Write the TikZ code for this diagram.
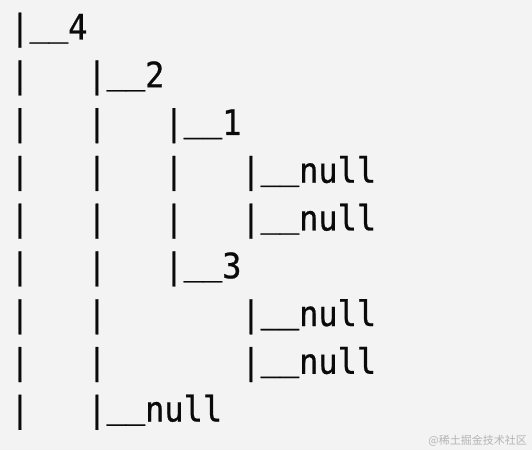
\documentclass[tikz,border=0pt]{standalone}
\usepackage{fontspec}
\newfontfamily\monofnt[FakeStretch=0.914,FakeBold=0.6]{DejaVu Sans Mono}
\newfontfamily\cjkfnt{Noto Sans CJK SC}
\definecolor{bgc}{HTML}{F3F3F3}
\definecolor{txc}{HTML}{0A0A0A}
\definecolor{wmc}{HTML}{B4B4B4}
\tikzset{
  tline/.style={anchor=base west, inner sep=0pt, outer sep=0pt, text=txc,
    font=\monofnt\fontsize{35}{35}\selectfont},
  wmark/.style={anchor=base east, inner sep=0pt, text=wmc,
    font=\cjkfnt\fontsize{11}{11}\selectfont}
}
\newcommand{\us}{\raisebox{4pt}{\_\_}}
\newcommand{\cellat}[4]{\node[tline] (#1) at ({10.4pt+#2*19.25pt},{450pt-39.5pt-#3*47.75pt}) {#4};}
\begin{document}
\begin{tikzpicture}
\fill[bgc] (0,0) rectangle (532pt,450pt);
\useasboundingbox (0,0) rectangle (532pt,450pt);
% row 0
\cellat{r0a}{0}{0}{|\us4}
% row 1
\cellat{r1a}{0}{1}{|}
\cellat{r1b}{4}{1}{|\us2}
% row 2
\cellat{r2a}{0}{2}{|}
\cellat{r2b}{4}{2}{|}
\cellat{r2c}{8}{2}{|\us1}
% row 3
\cellat{r3a}{0}{3}{|}
\cellat{r3b}{4}{3}{|}
\cellat{r3c}{8}{3}{|}
\cellat{r3d}{12}{3}{|\us null}
% row 4
\cellat{r4a}{0}{4}{|}
\cellat{r4b}{4}{4}{|}
\cellat{r4c}{8}{4}{|}
\cellat{r4d}{12}{4}{|\us null}
% row 5
\cellat{r5a}{0}{5}{|}
\cellat{r5b}{4}{5}{|}
\cellat{r5c}{8}{5}{|\us3}
% row 6
\cellat{r6a}{0}{6}{|}
\cellat{r6b}{4}{6}{|}
\cellat{r6d}{12}{6}{|\us null}
% row 7
\cellat{r7a}{0}{7}{|}
\cellat{r7b}{4}{7}{|}
\cellat{r7d}{12}{7}{|\us null}
% row 8
\cellat{r8a}{0}{8}{|}
\cellat{r8b}{4}{8}{|\us null}
% watermark
\node[wmark] (wm) at (527pt,6pt) {@稀土掘金技术社区};
\end{tikzpicture}
\end{document}
